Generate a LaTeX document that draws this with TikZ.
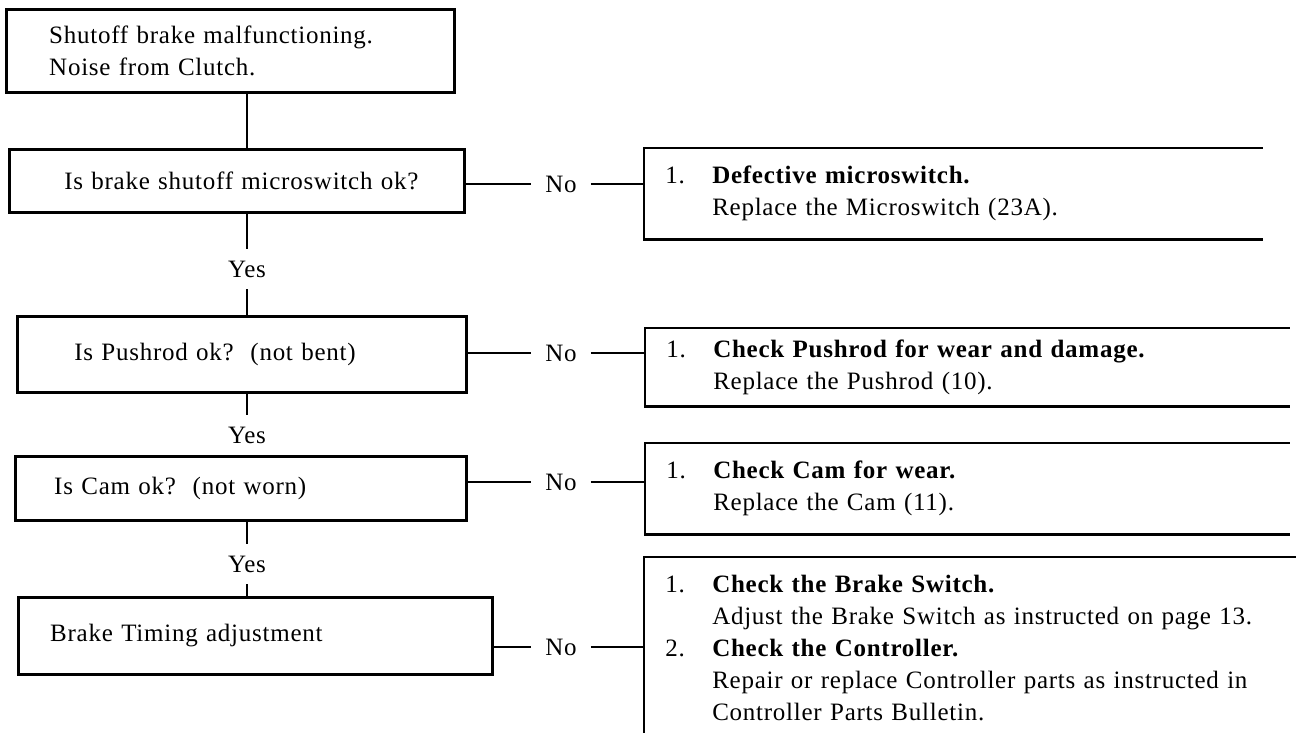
\documentclass[tikz,border=0pt]{standalone}
\usepackage{fontspec}
\setmainfont{Liberation Serif}[LetterSpace=3]
\newcommand{\itemno}[1]{\makebox[47pt][l]{#1}}
\newcommand{\itemind}{\hspace*{47pt}}
\begin{document}
\begin{tikzpicture}[x=1pt, y=-1pt, line width=2.5pt,
  every node/.style={font=\fontsize{25pt}{32pt}\selectfont, inner sep=0pt},
  rbox/.style n args={3}{anchor=north west, align=left, text width=#1,
    minimum height=#2, execute at begin node={\leftskip=#3}},
  qbox/.style n args={3}{rbox={#1}{#2}{#3}, draw},
  answer/.style={inner xsep=13pt, minimum height=38pt}]

  \useasboundingbox (0,0) rectangle (1296,732);

  % Questions down the left
  \node[qbox={448pt}{83pt}{43pt}] (q1) at (5,8)
    {Shutoff brake malfunctioning.\\Noise from Clutch.};
  \node[qbox={455pt}{63pt}{55pt}] (q2) at (8,148) {Is brake shutoff microswitch ok?};
  \node[qbox={449pt}{76pt}{57pt}] (q3) at (16,315) {Is Pushrod ok?~~(not bent)};
  \node[qbox={451pt}{64pt}{39pt}] (q4) at (14,455) {Is Cam ok?~~(not worn)};
  \node[qbox={474pt}{77pt}{32pt}] (q5) at (17,596) {Brake Timing adjustment};

  % Remedies on the right (boxes open to the right)
  \node[rbox={616pt}{89pt}{20pt}] (r1) at (644,148)
    {\itemno{1.}\textbf{Defective microswitch.}\\\itemind Replace the Microswitch (23A).};
  \node[rbox={642pt}{76pt}{20pt}] (r2) at (645,328)
    {\itemno{1.}\textbf{Check Pushrod for wear and damage.}\\\itemind Replace the Pushrod (10).};
  \node[rbox={642pt}{89pt}{20pt}] (r3) at (645,443)
    {\itemno{1.}\textbf{Check Cam for wear.}\\\itemind Replace the Cam (11).};
  \node[rbox={652pt}{179pt}{20pt}] (r4) at (644,557)
    {\itemno{1.}\textbf{Check the Brake Switch.}\\
     \itemind Adjust the Brake Switch as instructed on page 13.\\
     \itemno{2.}\textbf{Check the Controller.}\\
     \itemind Repair or replace Controller parts as instructed in\\
     \itemind Controller Parts Bulletin.};

  \foreach \ans in {r1,r2,r3}
    \draw (\ans.north east) -- (\ans.north west) -- (\ans.south west) -- (\ans.south east);
  \draw (r4.north east) -- (r4.north west) -- (r4.south west);

  % Yes / No answers
  \node[answer] (y1) at (247,269) {Yes};
  \node[answer] (y2) at (247,435) {Yes};
  \node[answer] (y3) at (247,564) {Yes};
  \node[answer] (n1) at (561,184) {No};
  \node[answer] (n2) at (561,353) {No};
  \node[answer] (n3) at (561,482) {No};
  \node[answer] (n4) at (561,647) {No};

  % Main line
  \draw (y1 |- q1.south) -- (y1 |- q2.north);
  \draw (y1 |- q2.south) -- (y1) -- (y1 |- q3.north);
  \draw (y2 |- q3.south) -- (y2) -- (y2 |- q4.north);
  \draw (y3 |- q4.south) -- (y3) -- (y3 |- q5.north);

  % Branches
  \draw (q2.east |- n1) -- (n1) -- (r1.west |- n1);
  \draw (q3.east |- n2) -- (n2) -- (r2.west |- n2);
  \draw (q4.east |- n3) -- (n3) -- (r3.west |- n3);
  \draw (q5.east |- n4) -- (n4) -- (r4.west |- n4);

\end{tikzpicture}
\end{document}
